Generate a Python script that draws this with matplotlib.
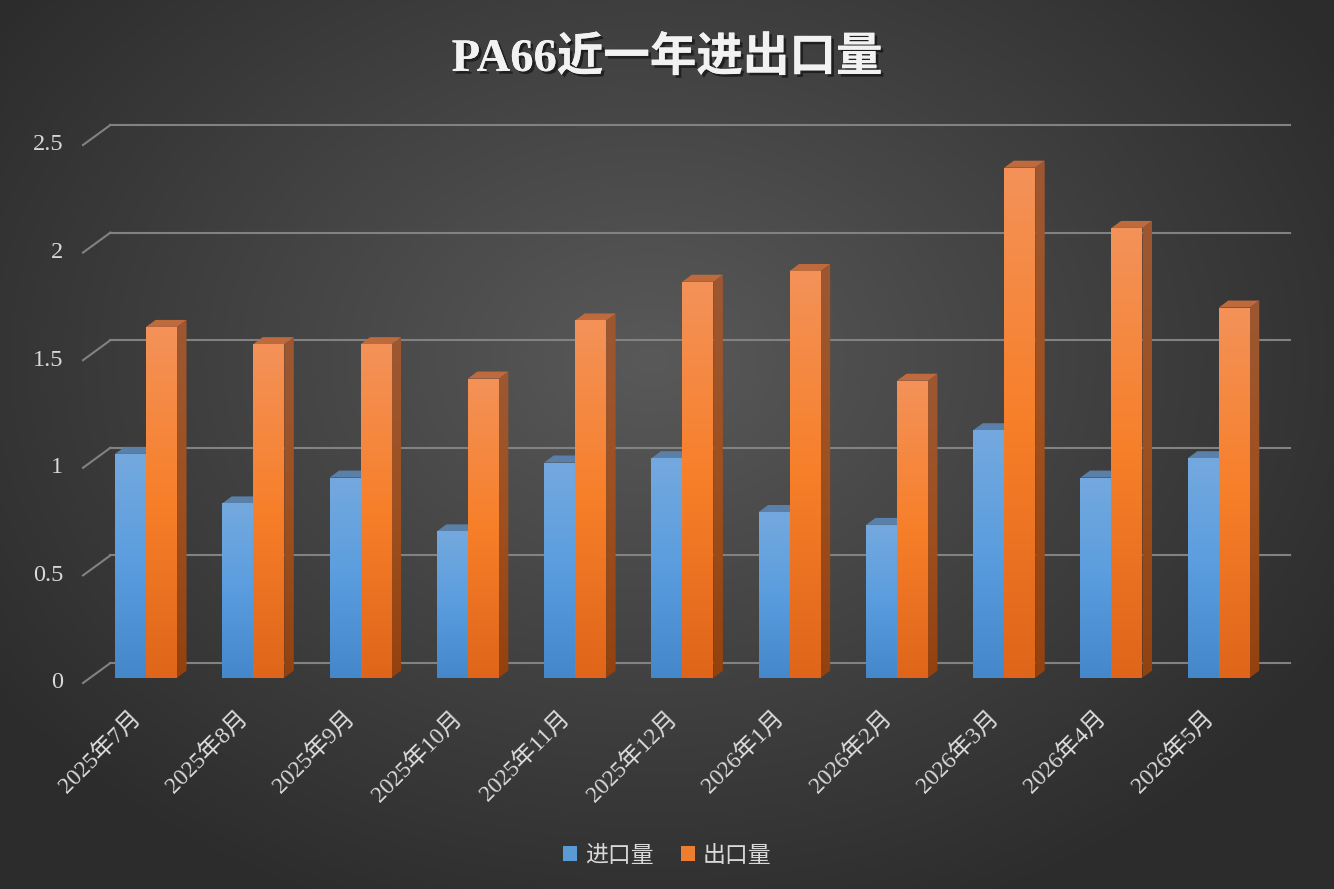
import numpy as np
import matplotlib
matplotlib.use("Agg")
import matplotlib.pyplot as plt
import matplotlib.patheffects as pe
from matplotlib.patches import Polygon, Rectangle
from matplotlib.colors import LinearSegmentedColormap

# data
months = ["2025年7月", "2025年8月", "2025年9月", "2025年10月", "2025年11月", "2025年12月",
          "2026年1月", "2026年2月", "2026年3月", "2026年4月", "2026年5月"]
imports = [1.04, 0.81, 0.93, 0.68, 1.00, 1.02, 0.77, 0.71, 1.15, 0.93, 1.02]
exports = [1.63, 1.55, 1.55, 1.39, 1.66, 1.84, 1.89, 1.38, 2.37, 2.09, 1.72]
yticks = [0, 0.5, 1, 1.5, 2, 2.5]
title = "PA66近一年进出口量"
names = ["进口量", "出口量"]

W, H = 1334, 889
fig = plt.figure(figsize=(W / 100, H / 100), dpi=100)

# radial background
bg = fig.add_axes([0, 0, 1, 1], zorder=-10)
yy, xx = np.mgrid[0:H, 0:W]
r = np.sqrt(((xx - 650) / 800.0) ** 2 + ((yy - 360) / 600.0) ** 2)
r = np.clip(r, 0, 1)
c0, c1 = np.array([0x59, 0x59, 0x59]) / 255, np.array([0x2c, 0x2c, 0x2c]) / 255
img = c0[None, None, :] * (1 - r[..., None]) + c1[None, None, :] * r[..., None]
bg.imshow(img, extent=[0, W, H, 0], aspect="auto")
bg.set_xlim(0, W)
bg.set_ylim(H, 0)
bg.axis("off")

# front plane of the bars
ax = fig.add_axes([92.4 / W, 211.3 / H, 1180 / W, 538 / H])
n = len(months)
ax.set_xlim(-0.5, n - 0.5)
ax.set_ylim(0, 2.5)
ax.axis("off")
pxx = 1180 / n      # pixels per x unit
pxy = 538 / 2.5     # pixels per y unit

def dx(p):
    return p / pxx

def dy(p):
    return p / pxy

grid_col = "#828282"
txt_col = "#d9d9d9"

# gridlines on the back wall, slanted on the left side wall
for v in yticks:
    ax.plot([-0.5 + dx(18), n - 0.5 + dx(18)], [v + dy(14.7), v + dy(14.7)],
            color=grid_col, lw=1.5, zorder=1, clip_on=False)
    ax.plot([-0.5 - dx(9.4), -0.5 + dx(18)], [v - dy(5.3), v + dy(14.7)],
            color=grid_col, lw=1.5, zorder=1, clip_on=False)
    lab = "0" if v == 0 else ("%g" % v)
    ax.text(-0.5 - dx(29.4), v - dy(5.3), lab, ha="right", va="center",
            fontsize=17.5, color=txt_col, family="Liberation Serif")

x = np.arange(n)
bw = 31 / pxx
ddx, ddy = dx(9.5), dy(7)

blue_cm = LinearSegmentedColormap.from_list("b", ["#4487ca", "#5a9ddf", "#74a9de"])
orng_cm = LinearSegmentedColormap.from_list("o", ["#df651a", "#f77f29", "#f39259"])
side_cm = LinearSegmentedColormap.from_list("s", ["#93420f", "#9e5020", "#9c5833"])
grad = np.linspace(0, 1, 256)[:, None]


def draw_bar(x0, v, cm, top_col, side_col_cm, z):
    # side face
    side = Polygon([[x0 + bw, 0], [x0 + bw + ddx, ddy], [x0 + bw + ddx, v + ddy], [x0 + bw, v]],
                   closed=True, facecolor="none", edgecolor="none", zorder=z)
    ax.add_patch(side)
    im = ax.imshow(grad, cmap=side_col_cm, origin="lower", aspect="auto",
                   extent=[x0 + bw, x0 + bw + ddx, 0, v + ddy], zorder=z)
    im.set_clip_path(side)
    # top face
    ax.add_patch(Polygon([[x0, v], [x0 + ddx, v + ddy], [x0 + bw + ddx, v + ddy], [x0 + bw, v]],
                         closed=True, facecolor=top_col, edgecolor="none", zorder=z))
    # front face
    front = Rectangle((x0, 0), bw, v, facecolor="none", edgecolor="none", zorder=z + 0.1)
    ax.add_patch(front)
    im2 = ax.imshow(grad, cmap=cm, origin="lower", aspect="auto",
                    extent=[x0, x0 + bw, 0, v], zorder=z + 0.1)
    im2.set_clip_path(front)


for i in range(n):
    draw_bar(x[i] - bw, imports[i], blue_cm, "#5a7fa8", side_cm, 2 + i * 0.01)
    draw_bar(x[i], exports[i], orng_cm, "#bf6a3d", side_cm, 3 + i * 0.01)

ax.set_xlim(-0.5, n - 0.5)
ax.set_ylim(0, 2.5)

# category labels
for i in range(n):
    ax.text(x[i] - dx(8), -dy(38), months[i], rotation=45, rotation_mode="anchor",
            ha="right", va="center", fontsize=17, color=txt_col,
            family=["Liberation Serif", "Noto Sans CJK SC"])

# title
fig.text(0.5, 1 - 59 / H, title, ha="center", va="center", fontsize=33.5, fontweight="bold",
         color="#f2f2f2", family=["Liberation Serif", "Noto Sans CJK SC"],
         path_effects=[pe.withSimplePatchShadow(offset=(2, -2), shadow_rgbFace="black", alpha=0.5),
                       pe.Normal()])

# legend
handles = [Rectangle((0, 0), 1, 1, facecolor="#5b9bd5"), Rectangle((0, 0), 1, 1, facecolor="#ed7d31")]
leg = fig.legend(handles, names, loc="center", bbox_to_anchor=(0.5, 1 - 855 / H), ncol=2,
                 frameon=False, handlelength=0.6, handleheight=0.6, handletextpad=0.35,
                 columnspacing=1.2, prop={"family": ["Noto Sans CJK SC"], "size": 16.5})
for t in leg.get_texts():
    t.set_color(txt_col)

fig.savefig("out.png", dpi=100)
